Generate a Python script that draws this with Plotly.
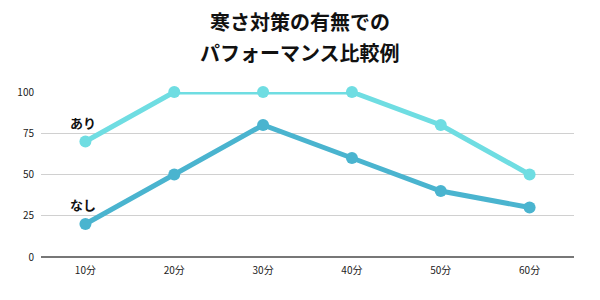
import plotly.graph_objects as go

categories = ["10分", "20分", "30分", "40分", "50分", "60分"]
ari = [70, 100, 100, 100, 80, 50]
nashi = [20, 50, 80, 60, 40, 30]
y_ticks = [0, 25, 50, 75, 100]
title_lines = ["寒さ対策の有無での", "パフォーマンス比較例"]

FONT = "Noto Sans CJK JP"

fig = go.Figure()
fig.add_trace(go.Scatter(x=categories, y=ari, mode="lines+markers", name="あり",
                         line=dict(color="#6fdde2", width=5),
                         marker=dict(size=12, color="#6fdde2"), cliponaxis=False))
fig.add_trace(go.Scatter(x=categories, y=nashi, mode="lines+markers", name="なし",
                         line=dict(color="#4ab4cf", width=5),
                         marker=dict(size=12, color="#4ab4cf"), cliponaxis=False))

fig.add_annotation(x=categories[0], y=ari[0], text="<b>あり</b>", showarrow=False,
                   xanchor="center", yanchor="bottom", yshift=8, xshift=-2,
                   font=dict(family=FONT, size=13, color="#111111"))
fig.add_annotation(x=categories[0], y=nashi[0], text="<b>なし</b>", showarrow=False,
                   xanchor="center", yanchor="bottom", yshift=8, xshift=-2,
                   font=dict(family=FONT, size=13, color="#111111"))

# title as two lines (pixel centres ~22 and ~52 in a 165px-tall plot area starting at y=92)
for line, ypos in zip(title_lines, [(257 - 22) / 165, (257 - 52) / 165]):
    fig.add_annotation(xref="paper", yref="paper", x=0.5 - (41 - 26) / 2 / 533,
                       y=ypos, text="<b>" + line + "</b>", showarrow=False,
                       xanchor="center", yanchor="middle",
                       font=dict(family=FONT, size=20, color="#111111"))

fig.update_layout(
    width=600, height=300,
    margin=dict(l=41, r=26, t=92, b=43),
    paper_bgcolor="white", plot_bgcolor="white",
    showlegend=False,
    font=dict(family=FONT, color="#222222"),
    xaxis=dict(type="category", range=[-0.5, 5.5], showgrid=False,
               tickfont=dict(size=10, color="#222222"), ticks="",
               showline=False, zeroline=False, ticklabelstandoff=6),
    yaxis=dict(range=[0, 100], tickvals=y_ticks, showgrid=True,
               gridcolor="#d0d0d0", gridwidth=1, zeroline=True,
               zerolinecolor="#777777", zerolinewidth=1.5,
               tickfont=dict(size=10, color="#222222"), ticks="",
               ticklabelstandoff=6),
)

fig.write_html("out.html")
